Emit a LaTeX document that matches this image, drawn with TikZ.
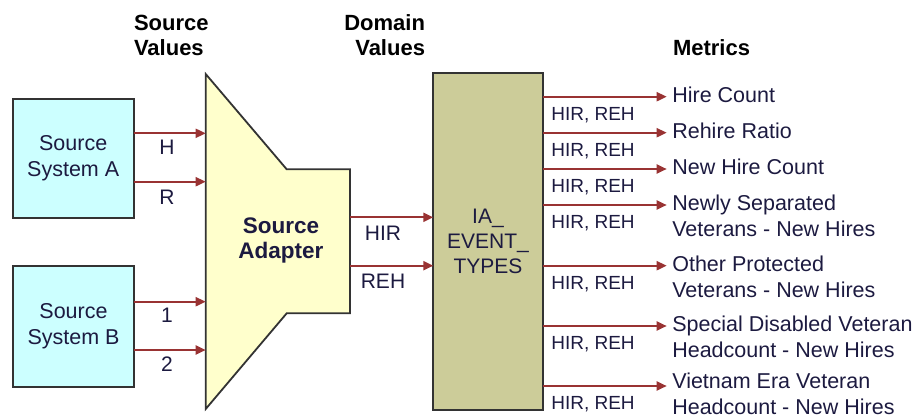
\documentclass[tikz,border=0pt]{standalone}
\usepackage{fontspec}
\setmainfont{Liberation Sans}
\usetikzlibrary{arrows.meta}
\definecolor{cyanbox}{HTML}{CCFFFF}
\definecolor{adapt}{HTML}{FFFFCC}
\definecolor{khaki}{HTML}{CCCC99}
\definecolor{arrowred}{HTML}{993333}
\definecolor{txt}{HTML}{1C1A40}
\definecolor{edge}{HTML}{333333}
\begin{document}
\begin{tikzpicture}[x=1pt,y=-1pt,
  every node/.style={font=\fontsize{21}{25}\selectfont, text=txt, inner sep=0pt, outer sep=0pt},
  hdr/.style={font=\fontsize{22}{25}\selectfont\bfseries, text=black},
  sbox/.style={draw=edge, line width=1.8pt, fill=cyanbox, minimum width=121pt, minimum height=120pt, align=center, font=\fontsize{21.5}{26}\selectfont},
  adbox/.style={draw=edge, line width=1.8pt, fill=adapt, line join=miter},
  ibox/.style={draw=edge, line width=1.8pt, fill=khaki, align=center},
  arr/.style={draw=arrowred, line width=2pt, -{Triangle[length=10pt,width=9pt]}},
  lbl/.style={anchor=base},
  elbl/.style={anchor=base, font=\fontsize{19}{24}\selectfont},
  metric/.style={anchor=north west, align=left, font=\fontsize{21.5}{25.5}\selectfont}
]
\useasboundingbox (0,0) rectangle (916,418);

% headers
\node[hdr, anchor=north west, align=left] (hSrc) at (134,15) {Source\\Values};
\node[hdr, anchor=north east, align=right] (hDom) at (425,15) {Domain\\Values};
\node[hdr, anchor=north west, align=left] (hMet) at (673,40) {Metrics};

% source systems
\node[sbox, minimum height=118.7pt] (SA) at (73.2,158.3) {Source\\System A};
\node[sbox, minimum height=121pt] (SB) at (73.5,326.2) {Source\\System B};

% adapter
\draw[adbox] (205.7,74) -- (286.7,169.3) -- (350,169.3) -- (350,313.3) -- (286.7,313.3) -- (205.7,409) -- cycle;
\node[font=\fontsize{22.5}{25}\selectfont\bfseries, align=center] (AD) at (281,240) {Source\\Adapter};
\coordinate (inH) at (205.7,133.3);
\coordinate (inR) at (205.7,181.7);
\coordinate (in1) at (205.7,301.7);
\coordinate (in2) at (205.7,350);
\coordinate (outHIR) at (350,217.3);
\coordinate (outREH) at (350,265.7);

% IA box
\node[ibox, minimum width=109.4pt, minimum height=337.3pt] (IA) at (488,241.35) {IA\_\\EVENT\_\\TYPES};

% source arrows
\draw[arr] (SA.east |- inH) -- (inH);
\draw[arr] (SA.east |- inR) -- (inR);
\draw[arr] (SB.east |- in1) -- (in1);
\draw[arr] (SB.east |- in2) -- (in2);
\node[lbl] (lH) at (167,154) {H};
\node[lbl] (lR) at (167,204) {R};
\node[lbl] (l1) at (167,322.7) {1};
\node[lbl] (l2) at (167,371.7) {2};

% domain arrows
\draw[arr] (outHIR) -- (IA.west |- outHIR);
\draw[arr] (outREH) -- (IA.west |- outREH);
\node[lbl] (lHIR) at (383,240) {HIR};
\node[lbl] (lREH) at (383,288) {REH};

% metrics
\foreach \i/\y/\s/\t in {1/96.7/0/{Hire Count},
                      2/132.7/0/{Rehire Ratio},
                      3/169/0/{New Hire Count},
                      4/205/0/{Newly Separated\\Veterans - New Hires},
                      5/265.7/0/{Other Protected\\Veterans - New Hires},
                      6/326/0/{Special Disabled Veteran\\Headcount - New Hires},
                      7/386/3/{Vietnam Era Veteran\\Headcount - New Hires}}{
  \coordinate (t\i) at (666.7,\y);
  \draw[arr] (IA.east |- t\i) -- (t\i);
  \node[metric] (m\i) at (672.3,\y-9.7-\s) {\t};
  \node[elbl] (e\i) at (593,\y+23.3) {HIR, REH};
}
\end{tikzpicture}
\end{document}
